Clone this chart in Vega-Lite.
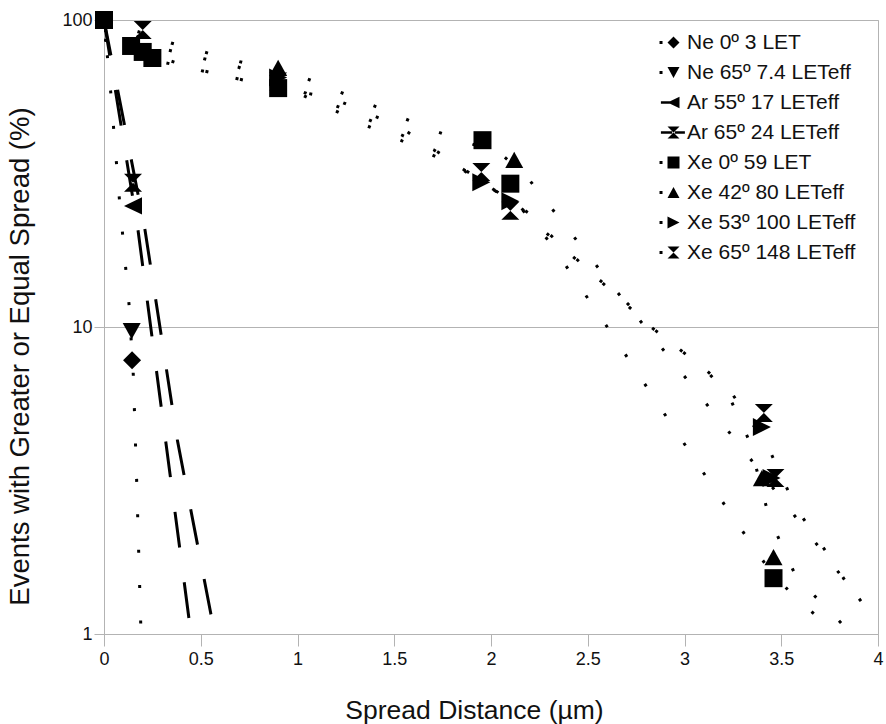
{
  "$schema": "https://vega.github.io/schema/vega-lite/v6.json",
  "width": 774,
  "height": 614,
  "autosize": "none",
  "padding": {"left": 104, "top": 20, "right": 8, "bottom": 90},
  "background": "white",
  "config": {
    "view": {"stroke": "#b3b3b3", "strokeWidth": 1},
    "font": "Liberation Sans",
    "axis": {
      "domainColor": "#b3b3b3",
      "tickColor": "#b3b3b3",
      "gridColor": "#b3b3b3",
      "labelFont": "Liberation Sans",
      "labelFontSize": 18,
      "labelColor": "#111111",
      "titleFont": "Liberation Sans",
      "titleFontSize": 26.5,
      "titleFontWeight": "normal",
      "titleColor": "#111111",
      "labelFlush": false
    },
    "legend": {
      "labelFont": "Liberation Sans",
      "labelFontSize": 21,
      "labelColor": "#111111"
    }
  },
  "datasets": {
    "markers": [
      {"series": "Ne 0º 3 LET", "x": 0, "y": 100},
      {"series": "Ne 0º 3 LET", "x": 0.145, "y": 7.8},
      {"series": "Ne 65º 7.4 LETeff", "x": 0, "y": 100},
      {"series": "Ne 65º 7.4 LETeff", "x": 0.143, "y": 9.7},
      {"series": "Ar 55º 17 LETeff", "x": 0, "y": 100},
      {"series": "Ar 55º 17 LETeff", "x": 0.15, "y": 24.8},
      {"series": "Ar 65º 24 LETeff", "x": 0, "y": 100},
      {"series": "Ar 65º 24 LETeff", "x": 0.15, "y": 29.5},
      {"series": "Xe 0º 59 LET", "x": 0, "y": 100},
      {"series": "Xe 0º 59 LET", "x": 0.14, "y": 82.3},
      {"series": "Xe 0º 59 LET", "x": 0.2, "y": 78.7},
      {"series": "Xe 0º 59 LET", "x": 0.25, "y": 75.2},
      {"series": "Xe 0º 59 LET", "x": 0.9, "y": 60},
      {"series": "Xe 0º 59 LET", "x": 1.956, "y": 40.6},
      {"series": "Xe 0º 59 LET", "x": 2.1, "y": 29.3},
      {"series": "Xe 0º 59 LET", "x": 3.46, "y": 1.52},
      {"series": "Xe 42º 80 LETeff", "x": 0, "y": 100},
      {"series": "Xe 42º 80 LETeff", "x": 0.9, "y": 69.8},
      {"series": "Xe 42º 80 LETeff", "x": 2.12, "y": 35},
      {"series": "Xe 42º 80 LETeff", "x": 3.4, "y": 3.22},
      {"series": "Xe 42º 80 LETeff", "x": 3.46, "y": 1.78},
      {"series": "Xe 53º 100 LETeff", "x": 0, "y": 100},
      {"series": "Xe 53º 100 LETeff", "x": 0.9, "y": 65},
      {"series": "Xe 53º 100 LETeff", "x": 1.95, "y": 29.6},
      {"series": "Xe 53º 100 LETeff", "x": 2.1, "y": 25.7},
      {"series": "Xe 53º 100 LETeff", "x": 3.4, "y": 4.72},
      {"series": "Xe 53º 100 LETeff", "x": 3.45, "y": 3.22},
      {"series": "Xe 65º 148 LETeff", "x": 0, "y": 100},
      {"series": "Xe 65º 148 LETeff", "x": 0.2, "y": 92.8},
      {"series": "Xe 65º 148 LETeff", "x": 0.9, "y": 63},
      {"series": "Xe 65º 148 LETeff", "x": 1.95, "y": 32},
      {"series": "Xe 65º 148 LETeff", "x": 2.1, "y": 23.9},
      {"series": "Xe 65º 148 LETeff", "x": 3.41, "y": 5.25},
      {"series": "Xe 65º 148 LETeff", "x": 3.47, "y": 3.22}
    ],
    "dotted": [
      {"series": "Ne", "i": 0, "x": 0, "y": 100},
      {"series": "Ne", "i": 1, "x": 0.0346, "y": 58.3},
      {"series": "Ne", "i": 2, "x": 0.0791, "y": 26.3},
      {"series": "Ne", "i": 3, "x": 0.1292, "y": 11.88},
      {"series": "Ne", "i": 4, "x": 0.1514, "y": 6.98},
      {"series": "Ne", "i": 5, "x": 0.169, "y": 3.13},
      {"series": "Ne", "i": 6, "x": 0.1897, "y": 1.086},
      {"series": "Ne", "i": 7, "x": 0.1922, "y": 1.0},
      {"series": "L1", "i": 0, "x": 0, "y": 100},
      {"series": "L1", "i": 1, "x": 0.3463, "y": 84.16},
      {"series": "L1", "i": 2, "x": 0.6873, "y": 73.52},
      {"series": "L1", "i": 3, "x": 1.0388, "y": 64.73},
      {"series": "L1", "i": 4, "x": 1.3592, "y": 53.67},
      {"series": "L1", "i": 5, "x": 1.6951, "y": 43.83},
      {"series": "L1", "i": 6, "x": 2.0517, "y": 36.61},
      {"series": "L1", "i": 7, "x": 2.186, "y": 30.82},
      {"series": "L1", "i": 8, "x": 2.6357, "y": 13.4},
      {"series": "L1", "i": 9, "x": 3.0889, "y": 5.87},
      {"series": "L1", "i": 10, "x": 3.3163, "y": 3.89},
      {"series": "L1", "i": 11, "x": 4.0, "y": 1.086},
      {"series": "L2", "i": 0, "x": 0, "y": 98.5},
      {"series": "L2", "i": 1, "x": 0.3307, "y": 79.86},
      {"series": "L2", "i": 2, "x": 0.6925, "y": 70.28},
      {"series": "L2", "i": 3, "x": 1.0284, "y": 58.29},
      {"series": "L2", "i": 4, "x": 1.3488, "y": 47.95},
      {"series": "L2", "i": 5, "x": 1.7054, "y": 37.72},
      {"series": "L2", "i": 6, "x": 2.1499, "y": 24.6},
      {"series": "L2", "i": 7, "x": 2.2739, "y": 20.55},
      {"series": "L2", "i": 8, "x": 2.4134, "y": 17.16},
      {"series": "L2", "i": 9, "x": 2.5478, "y": 14.44},
      {"series": "L2", "i": 10, "x": 2.6822, "y": 12.34},
      {"series": "L2", "i": 11, "x": 2.8269, "y": 10.0},
      {"series": "L2", "i": 12, "x": 3.1111, "y": 7.24},
      {"series": "L2", "i": 13, "x": 3.2403, "y": 6.14},
      {"series": "L2", "i": 14, "x": 3.4315, "y": 4.07},
      {"series": "L2", "i": 15, "x": 3.5762, "y": 2.573},
      {"series": "L2", "i": 16, "x": 3.7829, "y": 1.665},
      {"series": "L2", "i": 17, "x": 3.907, "y": 1.243},
      {"series": "L3", "i": 0, "x": 0, "y": 92.8},
      {"series": "L3", "i": 1, "x": 0.2997, "y": 72.97},
      {"series": "L3", "i": 2, "x": 0.6512, "y": 65.22},
      {"series": "L3", "i": 3, "x": 1.0026, "y": 57.85},
      {"series": "L3", "i": 4, "x": 1.3488, "y": 45.5},
      {"series": "L3", "i": 5, "x": 1.5297, "y": 40.65},
      {"series": "L3", "i": 6, "x": 1.8398, "y": 32.96},
      {"series": "L3", "i": 7, "x": 2.1499, "y": 24.6},
      {"series": "L3", "i": 8, "x": 2.3204, "y": 18.36},
      {"series": "L3", "i": 9, "x": 2.4186, "y": 14.77},
      {"series": "L3", "i": 10, "x": 2.6253, "y": 9.49},
      {"series": "L3", "i": 11, "x": 2.8217, "y": 6.14},
      {"series": "L3", "i": 12, "x": 3.0233, "y": 3.95},
      {"series": "L3", "i": 13, "x": 3.2248, "y": 2.535},
      {"series": "L3", "i": 14, "x": 3.3282, "y": 2.039},
      {"series": "L3", "i": 15, "x": 3.4315, "y": 1.64},
      {"series": "L3", "i": 16, "x": 3.554, "y": 1.35},
      {"series": "L3", "i": 17, "x": 3.6884, "y": 1.136},
      {"series": "L3", "i": 18, "x": 3.7519, "y": 1.0},
      {"series": "L4", "i": 0, "x": 0, "y": 86.1},
      {"series": "L4", "i": 1, "x": 0.4755, "y": 69.24},
      {"series": "L4", "i": 2, "x": 0.8269, "y": 61.42},
      {"series": "L4", "i": 3, "x": 1.1783, "y": 55.72},
      {"series": "L4", "i": 4, "x": 1.5297, "y": 44.82},
      {"series": "L4", "i": 5, "x": 1.8501, "y": 32.96},
      {"series": "L4", "i": 6, "x": 2.2171, "y": 22.99},
      {"series": "L4", "i": 7, "x": 2.2842, "y": 20.55},
      {"series": "L4", "i": 8, "x": 2.5478, "y": 14.44},
      {"series": "L4", "i": 9, "x": 2.8269, "y": 10.0},
      {"series": "L4", "i": 10, "x": 3.1111, "y": 7.24},
      {"series": "L4", "i": 11, "x": 3.23, "y": 5.96},
      {"series": "L4", "i": 12, "x": 3.3333, "y": 4.28},
      {"series": "L4", "i": 13, "x": 3.4367, "y": 2.405},
      {"series": "L4", "i": 14, "x": 3.5798, "y": 1.522},
      {"series": "L4", "i": 15, "x": 3.709, "y": 1.262},
      {"series": "L4", "i": 16, "x": 3.8346, "y": 1.046},
      {"series": "L4", "i": 17, "x": 3.8656, "y": 1.0}
    ],
    "dashed": [
      {"series": "Ar 55", "i": 0, "x": 0, "y": 100},
      {"series": "Ar 55", "i": 1, "x": 0.1757, "y": 20.7},
      {"series": "Ar 55", "i": 2, "x": 0.4496, "y": 1.0},
      {"series": "Ar 65", "i": 0, "x": 0, "y": 100},
      {"series": "Ar 65", "i": 1, "x": 0.2119, "y": 20.7},
      {"series": "Ar 65", "i": 2, "x": 0.3788, "y": 4.29},
      {"series": "Ar 65", "i": 3, "x": 0.5514, "y": 1.17},
      {"series": "Ar 65", "i": 4, "x": 0.572, "y": 1.0}
    ]
  },
  "encoding": {
    "x": {
      "field": "x", "type": "quantitative",
      "scale": {"domain": [0, 4], "nice": false, "zero": false},
      "axis": {
        "values": [0, 0.5, 1, 1.5, 2, 2.5, 3, 3.5, 4],
        "format": "~g",
        "grid": false,
        "tickSize": 12,
        "labelPadding": 4,
        "title": "Spread Distance (µm)",
        "titleX": 370,
        "titleY": 84,
        "titleBaseline": "alphabetic",
        "titleAlign": "center"
      }
    },
    "y": {
      "field": "y", "type": "quantitative",
      "scale": {"type": "log", "domain": [1, 100], "nice": false},
      "axis": {
        "values": [1, 10, 100],
        "format": "~g",
        "grid": true,
        "tickSize": 10,
        "labelPadding": 2,
        "title": "Events with Greater or Equal Spread (%)",
        "titleFontSize": 27.5,
        "titleX": -76,
        "titleY": 336,
        "titleBaseline": "alphabetic",
        "titleAlign": "center"
      }
    }
  },
  "layer": [
    {
      "data": {"name": "dotted"},
      "mark": {"type": "line", "color": "black", "strokeWidth": 3, "strokeDash": [3, 32.4], "clip": true},
      "encoding": {
        "detail": {"field": "series"},
        "order": {"field": "i", "type": "quantitative"}
      }
    },
    {
      "data": {"name": "dashed"},
      "mark": {"type": "line", "color": "black", "strokeWidth": 3, "strokeDash": [36, 35], "clip": true},
      "encoding": {
        "detail": {"field": "series"},
        "order": {"field": "i", "type": "quantitative"}
      }
    },
    {
      "data": {"name": "markers"},
      "mark": {"type": "point", "filled": true, "color": "black", "opacity": 1, "size": 324, "clip": false},
      "encoding": {
        "shape": {
          "field": "series", "type": "nominal",
          "scale": {
            "domain": ["Ne 0º 3 LET", "Ne 65º 7.4 LETeff", "Ar 55º 17 LETeff", "Ar 65º 24 LETeff", "Xe 0º 59 LET", "Xe 42º 80 LETeff", "Xe 53º 100 LETeff", "Xe 65º 148 LETeff"],
            "range": [
              "M0,-1L1,0L0,1L-1,0Z",
              "M-1,-0.9L1,-0.9L0,0.9Z",
              "M-1,0L1,-0.95L1,0.95Z",
              "M-1,-1L1,-1L-1,1L1,1Z",
              "M-1,-1L1,-1L1,1L-1,1Z",
              "M0,-0.9L1,0.9L-1,0.9Z",
              "M1,0L-1,-1L-1,1Z",
              "M-1,-1L1,-1L-1,1L1,1Z"
            ]
          },
          "legend": null
        }
      }
    },
    {
      "data": {"name": "markers"},
      "mark": {"type": "point", "filled": true, "color": "black", "opacity": 0, "size": 144},
      "encoding": {
        "shape": {
          "field": "series", "type": "nominal",
          "scale": {
            "domain": ["Ne 0º 3 LET", "Ne 65º 7.4 LETeff", "Ar 55º 17 LETeff", "Ar 65º 24 LETeff", "Xe 0º 59 LET", "Xe 42º 80 LETeff", "Xe 53º 100 LETeff", "Xe 65º 148 LETeff"],
            "range": [
              "M-2.33,-0.25L-1.83,-0.25L-1.83,0.25L-2.33,0.25Z M0,-1L1,0L0,1L-1,0Z",
              "M-2.33,-0.25L-1.83,-0.25L-1.83,0.25L-2.33,0.25Z M-1,-0.9L1,-0.9L0,0.9Z",
              "M-2.1,-0.22L-0.3,-0.22L-0.3,0.22L-2.1,0.22Z M-1,0L1,-0.95L1,0.95Z",
              "M-2.1,-0.22L-0.22,-0.22L-0.22,0.22L-2.1,0.22Z M0.22,-0.22L1.9,-0.22L1.9,0.22L0.22,0.22Z M-1,-1L1,-1L-1,1L1,1Z",
              "M-2.33,-0.25L-1.83,-0.25L-1.83,0.25L-2.33,0.25Z M-1,-1L1,-1L1,1L-1,1Z",
              "M-2.33,-0.25L-1.83,-0.25L-1.83,0.25L-2.33,0.25Z M0,-0.9L1,0.9L-1,0.9Z",
              "M-2.33,-0.25L-1.83,-0.25L-1.83,0.25L-2.33,0.25Z M1,0L-1,-1L-1,1Z",
              "M-2.33,-0.25L-1.83,-0.25L-1.83,0.25L-2.33,0.25Z M-1,-1L1,-1L-1,1L1,1Z"
            ]
          },
          "legend": {
            "title": null,
            "orient": "none",
            "legendX": 559,
            "legendY": 12,
            "padding": 0,
            "rowPadding": 8,
            "labelOffset": 3,
            "symbolOpacity": 1,
            "symbolFillColor": "black",
            "symbolStrokeWidth": 0,
            "symbolSize": 144,
            "labelLimit": 300
          }
        }
      }
    }
  ],
  "resolve": {"scale": {"shape": "independent"}}
}
